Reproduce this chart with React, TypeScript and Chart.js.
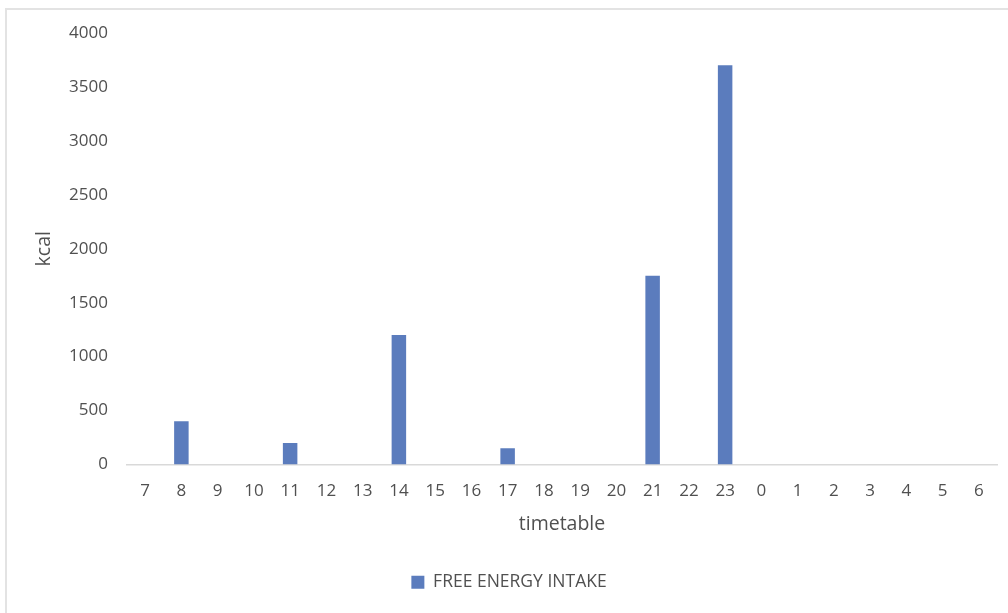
import React, { useEffect, useRef } from "react";
import { Chart, registerables } from "chart.js";

Chart.register(...registerables);

const hours = ["7","8","9","10","11","12","13","14","15","16","17","18","19","20","21","22","23","0","1","2","3","4","5","6"];
const freeEnergyIntake = [0,400,0,0,200,0,0,1200,0,0,150,0,0,0,1750,0,3700,0,0,0,0,0,0,0];
const seriesName = "FREE ENERGY INTAKE";
const yTitle = "kcal";
const xTitle = "timetable";

const FONT = "'Open Sans', 'Noto Sans', sans-serif";
const TEXT = "#505050";

export default function App() {
  const ref = useRef<HTMLCanvasElement | null>(null);
  useEffect(() => {
    if (!ref.current) return;
    const chart = new Chart(ref.current, {
      type: "bar",
      data: {
        labels: hours,
        datasets: [
          {
            label: seriesName,
            data: freeEnergyIntake,
            backgroundColor: "#5b7cbd",
            borderWidth: 0,
            barPercentage: 0.4,
            categoryPercentage: 1,
          },
        ],
      },
      options: {
        animation: false,
        responsive: false,
        maintainAspectRatio: false,
        layout: { padding: { left: 21, right: 11, top: 33, bottom: 12 } },
        plugins: {
          tooltip: { enabled: false },
          legend: {
            position: "bottom",
            labels: {
              boxWidth: 13,
              boxHeight: 13,
              padding: 10,
              color: TEXT,
              font: { family: FONT, size: 17.5 },
            },
          },
        },
        scales: {
          x: {
            grid: { display: false, drawTicks: false },
            border: { display: true, color: "#d9d9d9", width: 1.5 },
            ticks: { color: TEXT, font: { family: FONT, size: 17 }, padding: 16, maxRotation: 0, autoSkip: false },
            title: { display: true, text: xTitle, color: TEXT, font: { family: FONT, size: 19.5 }, padding: { top: 0, bottom: 27 } },
            afterFit: (s: any) => { s.height = 99; },
          },
          y: {
            min: 0,
            max: 4000,
            grid: { display: false, drawTicks: false },
            border: { display: false },
            ticks: {
              stepSize: 500,
              color: TEXT,
              font: { family: FONT, size: 17 },
              padding: 19,
              callback: (v: any) => String(v),
            },
            title: { display: true, text: yTitle, color: TEXT, font: { family: FONT, size: 19.5 }, padding: { top: 12, bottom: 0 } },
            afterFit: (s: any) => { s.width = 106; },
          },
        },
      },
    });
    return () => chart.destroy();
  }, []);

  return (
    <div style={{ position: "fixed", left: 0, top: 0, width: 1008, height: 613, background: "#fff", overflow: "hidden" }}>
      <div style={{ position: "absolute", left: 5, top: 8, width: 1100, height: 700, border: "2px solid #e3e3e3", boxSizing: "border-box" }} />
      <canvas ref={ref} width={1008} height={613} style={{ position: "absolute", left: 0, top: 0 }} />
    </div>
  );
}
